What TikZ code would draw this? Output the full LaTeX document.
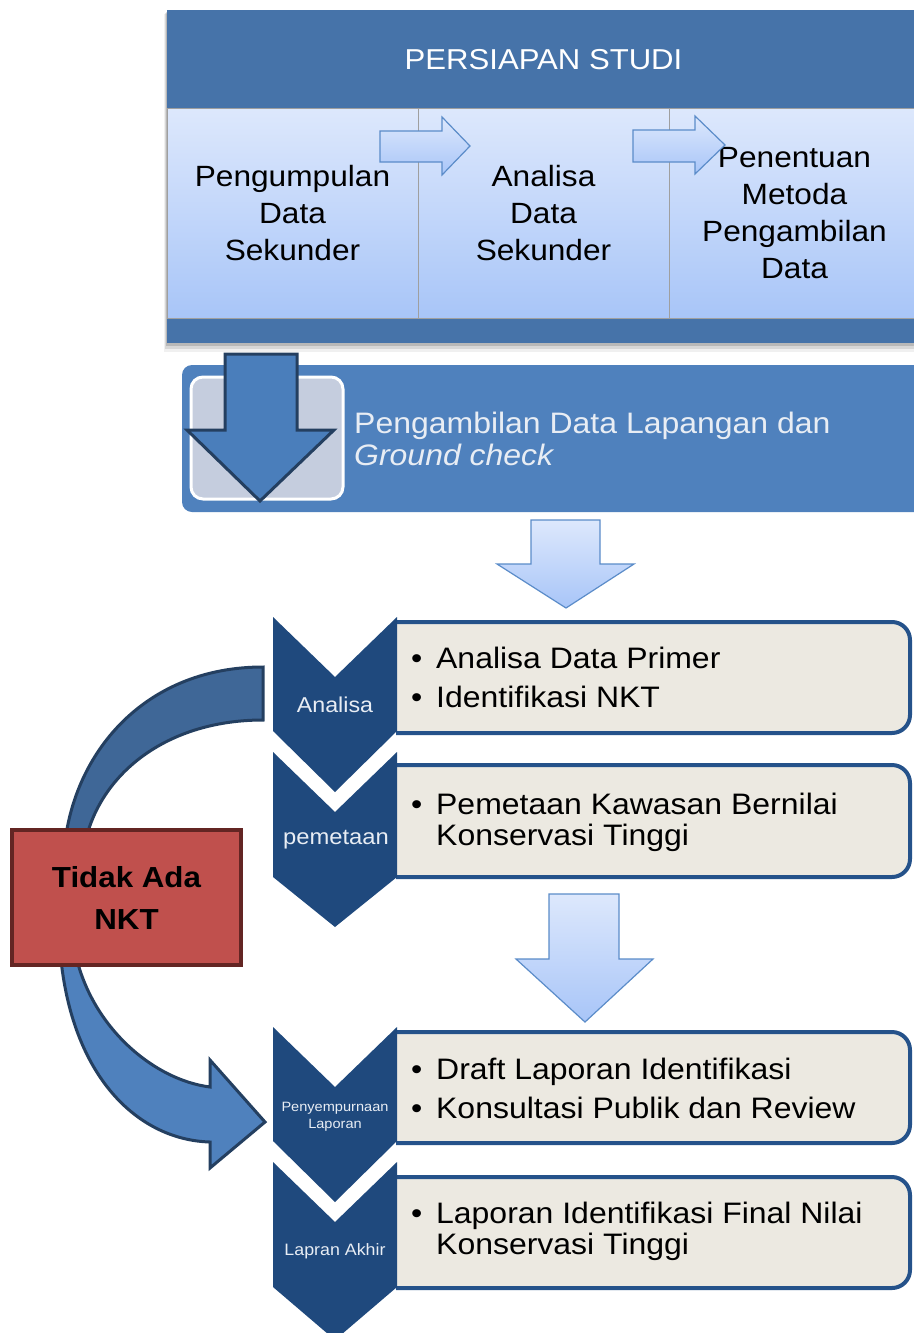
\documentclass[tikz,border=0pt]{standalone}
\usepackage{fontspec}
\setmainfont{Liberation Sans}[FakeStretch=1.08]
\definecolor{hdr}{HTML}{4673A9}
\definecolor{coltop}{HTML}{DDE8FC}
\definecolor{colbot}{HTML}{A8C5F8}
\definecolor{midblue}{HTML}{4F81BD}
\definecolor{navy}{HTML}{1F497D}
\definecolor{darkline}{HTML}{243F60}
\definecolor{boxfill}{HTML}{ECE9E1}
\definecolor{boxline}{HTML}{25528A}
\definecolor{redfill}{HTML}{C0504D}
\definecolor{redline}{HTML}{632523}
\definecolor{bandfill}{HTML}{3F6797}
\definecolor{sqfill}{HTML}{C5CDDE}
\definecolor{arrline}{HTML}{5B8CC9}
\definecolor{lighttext}{HTML}{E8EDF4}
\newcommand\itm[1]{\makebox[25pt][l]{\textbullet}#1}
\begin{document}
\begin{tikzpicture}[x=1pt,y=-1pt,
  colbox/.style={minimum height=210pt, inner sep=0pt, align=center,
    font=\fontsize{29.3}{37}\selectfont, top color=coltop, bottom color=colbot,
    draw=gray!75, line width=0.8pt},
  lightarrow/.style={top color=coltop, bottom color=colbot, draw=arrline, line width=1.2pt, line join=miter},
  chev/.style={fill=navy},
  chevtext/.style={text=lighttext, align=center, inner sep=0pt},
  infobox/.style={fill=boxfill, draw=boxline, line width=4pt, rounded corners=18pt},
  infotext/.style={anchor=west, align=left, inner sep=0pt, font=\fontsize{29.6}{31}\selectfont},
  darkarrow/.style={draw=darkline, line width=3pt, line join=miter}]
\useasboundingbox (0,0) rectangle (913,1333);
\fill[white] (0,0) rectangle (913,1333);

% ---- top block ----
\fill[black,opacity=0.06] (164,14) rectangle (920,352);
\fill[black,opacity=0.10] (165,13) rectangle (920,349);
\fill[black,opacity=0.14] (166,12) rectangle (920,346);
\fill[hdr] (167,10) rectangle (920,343);
\node[text=white, font=\fontsize{28.8}{30}\selectfont, inner sep=0pt] (title) at (543.5,60) {PERSIAPAN STUDI};
\node[colbox, minimum width=251pt] (c1) at (292.5,213) {Pengumpulan\\Data\\Sekunder};
\node[colbox, minimum width=251pt] (c2) at (543.5,213) {Analisa\\Data\\Sekunder};
\node[colbox, minimum width=251pt] (c3) at (794.5,213) {Penentuan\\Metoda\\Pengambilan\\Data};
\path[lightarrow] (380,131) -- (442,131) -- (442,117) -- (470,146) -- (442,175) -- (442,162) -- (380,162) -- cycle;
\path[lightarrow] (633,130) -- (695,130) -- (695,116) -- (725,145) -- (695,174) -- (695,162) -- (633,162) -- cycle;

% ---- field block ----
\fill[midblue, rounded corners=10pt] (182,365) rectangle (940,512);
\draw[white, line width=3pt, fill=sqfill, rounded corners=12pt] (191,377) rectangle (343,499);
\path[darkarrow, fill={rgb,255:red,74;green,126;blue,187}] (225,354) -- (297,354) -- (297,430) -- (334,430) -- (260,501) -- (187,430) -- (225,430) -- cycle;
\node[anchor=west, align=left, inner sep=0pt, text=lighttext, font=\fontsize{29.6}{32}\selectfont] (field) at (354,439) {Pengambilan Data Lapangan dan\\\textit{Ground check}};

% ---- light down arrows ----
\path[lightarrow] (531,520) -- (600,520) -- (600,564) -- (634,564) -- (566,608) -- (497,564) -- (531,564) -- cycle;
\path[lightarrow] (549,894) -- (619,894) -- (619,959) -- (653,959) -- (585,1022) -- (516,959) -- (549,959) -- cycle;

% ---- info boxes (left part hidden behind chevrons) ----
\begin{scope}
\clip (396,600) rectangle (930,1333);
\draw[infobox] (375,622) rectangle (910,733);
\draw[infobox] (375,765) rectangle (910,877);
\draw[infobox] (375,1032) rectangle (910,1143);
\draw[infobox] (375,1177) rectangle (910,1288);
\end{scope}

% ---- chevrons ----
\fill[chev] (273,617) -- (335,677) -- (397,617) -- (397,731) -- (335,792) -- (273,731) -- cycle;
\fill[chev] (273,752) -- (335,812) -- (397,752) -- (397,877) -- (335,927) -- (273,877) -- cycle;
\fill[chev] (273,1027) -- (335,1087) -- (397,1027) -- (397,1141) -- (335,1202) -- (273,1141) -- cycle;
\fill[chev] (273,1162) -- (335,1222) -- (397,1162) -- (397,1287) -- (335,1340) -- (273,1287) -- cycle;

\node[chevtext, font=\fontsize{21.5}{23}\selectfont] (ch1) at (335,705) {Analisa};
\node[chevtext, font=\fontsize{22}{24}\selectfont] (ch2) at (336,840) {pemetaan};
\node[chevtext, font=\fontsize{13.5}{17}\selectfont] (ch3) at (335,1117) {Penyempurnaan\\Laporan};
\node[chevtext, font=\fontsize{16.5}{18}\selectfont] (ch4) at (335,1251) {Lapran Akhir};

\node[infotext] (t1) at (411,677) {\itm{Analisa Data Primer}\\[8pt]\itm{Identifikasi NKT}};
\node[infotext] (t2) at (411,822) {\itm{Pemetaan Kawasan Bernilai}\\\hspace*{25pt}Konservasi Tinggi};
\node[infotext] (t3) at (411,1088) {\itm{Draft Laporan Identifikasi}\\[8pt]\itm{Konsultasi Publik dan Review}};
\node[infotext] (t4) at (411,1231) {\itm{Laporan Identifikasi Final Nilai}\\\hspace*{25pt}Konservasi Tinggi};

% ---- curved arrows ----
\coordinate (uA) at (263,667);
\coordinate (uB) at (263,720);
\path[darkarrow, fill=bandfill] (uA) .. controls (150,667) and (80,745) .. (66,835)
  -- (87,835) .. controls (105,770) and (170,720) .. (uB) -- cycle;
\coordinate (tip) at (265,1122);
\path[darkarrow, fill=midblue] (77,960) .. controls (95,1030) and (155,1080) .. (210,1087)
  -- (210,1060) -- (tip) -- (210,1168) -- (210,1142)
  .. controls (140,1140) and (74,1080) .. (61,960) -- cycle;

\node[draw=redline, line width=4pt, fill=redfill, minimum width=229pt, minimum height=135pt,
  font=\bfseries\fontsize{29}{42}\selectfont, align=center, inner sep=0pt] (nkt) at (126.5,897.5) {Tidak Ada\\NKT};
\end{tikzpicture}
\end{document}
